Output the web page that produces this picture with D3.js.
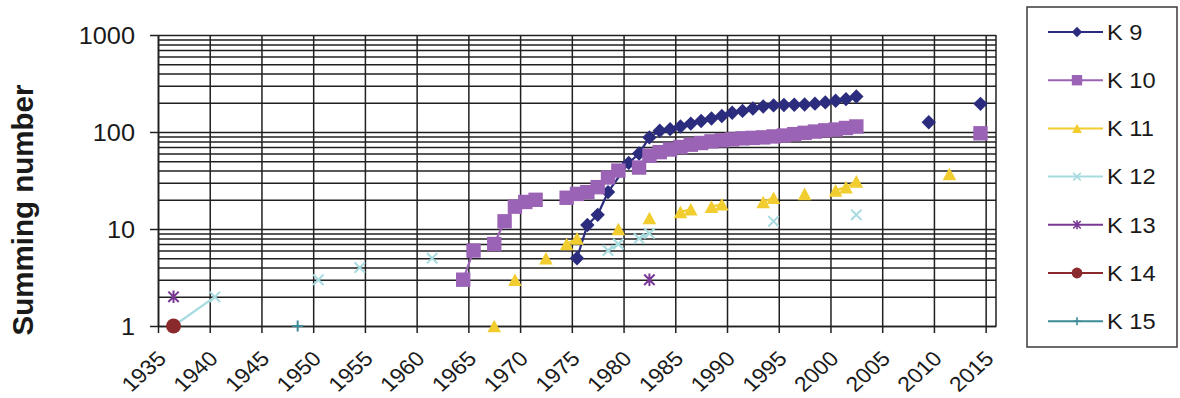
<!DOCTYPE html>
<html>
<head>
<meta charset="utf-8">
<script src="https://cdn.jsdelivr.net/npm/d3@7"></script>
<style>
  body { margin: 0; background: #ffffff; }
  text { font-family: Arial, "Liberation Sans", sans-serif; fill: #1a1a1a; }
</style>
</head>
<body>
<svg id="chart" width="1180" height="398"></svg>
<script>
// ---- data: yearly summing numbers per K-series (null = no observation, breaks the line)
const seriesNames = ["K 9", "K 10", "K 11", "K 12", "K 13", "K 14", "K 15"];

const k9Years  = [1975, 1976, 1977, 1978, 1980, 1981, 1982, 1983, 1984, 1985, 1986, 1987, 1988, 1989, 1990,
                  1991, 1992, 1993, 1994, 1995, 1996, 1997, 1998, 1999, 2000, 2001, 2002, 2003, 2009, 2010, 2014];
const k9Values = [5, 11, 14, 24, 48, 60, 88, 103, 107, 114, 122, 130, 138, 146, 158,
                  165, 175, 183, 188, 190, 191, 192, 196, 202, 210, 218, 232, null, 126, null, 195];

const k10Years  = [1964, 1965, 1966, 1967, 1968, 1969, 1970, 1971, 1972, 1974, 1975, 1976, 1977, 1978, 1979,
                   1980, 1981, 1982, 1983, 1984, 1985, 1986, 1987, 1988, 1989, 1990, 1991, 1992, 1993, 1994,
                   1995, 1996, 1997, 1998, 1999, 2000, 2001, 2002, 2003, 2014];
const k10Values = [3, 6, null, 7, 12, 17, 19, 20, null, 21, 23, 24, 27, 34, 40,
                   null, 43, 57, 62, 66, 70, 74, 77, 80, 82, 84, 86, 87, 88, 90,
                   92, 95, 98, 101, 104, 106, 110, 114, null, 97];

const k11Years  = [1967, 1968, 1969, 1970, 1972, 1973, 1974, 1975, 1976, 1979, 1980, 1982, 1983, 1985, 1986,
                   1987, 1988, 1989, 1990, 1993, 1994, 1995, 1997, 1998, 2000, 2001, 2002, 2003, 2011];
const k11Values = [1, null, 3, null, 5, null, 7, 8, null, 10, null, 13, null, 15, 16,
                   null, 17, 18, null, 19, 21, null, 23, null, 25, 27, 31, null, 37];

const k12Years  = [1936, 1940, 1941, 1950, 1951, 1954, 1955, 1961, 1962, 1978, 1979, 1980, 1981, 1982, 1983, 1994, 1995, 2002];
const k12Values = [1, 2, null, 3, null, 4, null, 5, null, 6, 7, null, 8, 9, null, 12, null, 14];

const k13Years  = [1936, 1937, 1982];
const k13Values = [2, null, 3];

const k14Years  = [1936];
const k14Values = [1];

const k15Years  = [1948];
const k15Values = [1];

const yearTicks  = [1935, 1940, 1945, 1950, 1955, 1960, 1965, 1970, 1975, 1980, 1985, 1990, 1995, 2000, 2005, 2010, 2015];
const countTicks = [1, 10, 100, 1000];
const yTitle = "Summing number";

// ---- look
const colors  = ["#2c2c7e", "#9b63b5", "#f2cd2f", "#a6dbe0", "#7a3896", "#8a2a2c", "#3c8b98"];
const markers = ["diamond", "square", "triangle", "cross", "star", "circle", "plus"];
const gridColor = "#202020";
const midYear = 0.5;          // counts are placed in the middle of their year
const stretch = "scale(1.1,1)";

const X0 = 158, X1 = 996, Y0 = 326, Y1 = 35;
const x = d3.scaleLinear().domain([1935, 2016]).range([X0, X1]);
const y = d3.scaleLog().domain([1, 1000]).range([Y0, Y1]);

const svg = d3.select("#chart");

// ---- grid: every integer step of each decade
const gridValues = [];
countTicks.slice(0, -1).forEach(d => { for (let k = 1; k <= 9; k++) gridValues.push(k * d); });
gridValues.push(1000);

svg.append("g")
  .attr("transform", `translate(${X0},0)`)
  .call(d3.axisLeft(y).tickValues(gridValues).tickSize(-(X1 - X0)).tickFormat(""))
  .call(g => g.select(".domain").remove())
  .selectAll("line").attr("stroke", gridColor).attr("stroke-width", 1.5);

svg.append("g")
  .attr("transform", `translate(0,${Y1})`)
  .call(d3.axisBottom(x).tickValues(yearTicks).tickSize(Y0 - Y1).tickFormat(""))
  .call(g => g.select(".domain").remove())
  .selectAll("line").attr("stroke", gridColor).attr("stroke-width", 1.5);

// right frame edge
svg.append("line")
  .attr("x1", X1).attr("x2", X1).attr("y1", Y1).attr("y2", Y0)
  .attr("stroke", gridColor).attr("stroke-width", 1.5);

// ---- axes
const xAxis = svg.append("g")
  .attr("transform", `translate(0,${Y0})`)
  .call(d3.axisBottom(x).tickValues(yearTicks).tickSizeInner(7).tickSizeOuter(0).tickFormat(d3.format("d")));
xAxis.select(".domain").attr("stroke", gridColor).attr("stroke-width", 1.6);
xAxis.selectAll("line").attr("stroke", gridColor).attr("stroke-width", 1.5);
xAxis.selectAll("text")
  .attr("x", 0).attr("y", 0).attr("dy", 0)
  .attr("text-anchor", "end")
  .attr("font-size", 21)
  .attr("fill", "#1a1a1a")
  .attr("transform", `translate(9,34) ${stretch} rotate(-45)`);

const yAxis = svg.append("g")
  .attr("transform", `translate(${X0},0)`)
  .call(d3.axisLeft(y).tickValues(countTicks).tickSizeInner(8).tickSizeOuter(0).tickFormat(d3.format("d")));
yAxis.select(".domain").attr("stroke", gridColor).attr("stroke-width", 1.6);
yAxis.selectAll("line").attr("stroke", gridColor).attr("stroke-width", 1.5);
yAxis.selectAll("text")
  .attr("x", 0).attr("dy", "0.36em")
  .attr("font-size", 23)
  .attr("fill", "#1a1a1a")
  .attr("transform", `translate(-23,0) ${stretch}`);

svg.append("text")
  .attr("transform", `translate(33,${(83 + 337) / 2}) rotate(-90)`)
  .attr("text-anchor", "middle")
  .attr("font-size", 29.5)
  .attr("font-weight", "bold")
  .text(yTitle);

// ---- marker shapes
function drawMarker(g, type, color, s) {
  const sw = 2 * Math.max(s, 0.8);
  if (type === "diamond") {
    const r = 7.2 * s;
    g.append("path").attr("d", `M0,${-r}L${r},0L0,${r}L${-r},0Z`).attr("fill", color);
  } else if (type === "square") {
    const h = 7.2 * s;
    g.append("rect").attr("x", -h).attr("y", -h).attr("width", 2 * h).attr("height", 2 * h).attr("fill", color);
  } else if (type === "triangle") {
    const w = 6.8 * s, t = 6.3 * s;
    g.append("path").attr("d", `M0,${-t}L${w},${t}L${-w},${t}Z`).attr("fill", color);
  } else if (type === "cross") {
    const r = 5.2 * s;
    g.append("path").attr("d", `M${-r},${-r}L${r},${r}M${-r},${r}L${r},${-r}`)
      .attr("stroke", color).attr("stroke-width", sw).attr("fill", "none");
  } else if (type === "star") {
    const r = 5.2 * s;
    g.append("path").attr("d", `M${-r},${-r}L${r},${r}M${-r},${r}L${r},${-r}M0,${-r * 1.2}L0,${r * 1.2}`)
      .attr("stroke", color).attr("stroke-width", sw).attr("fill", "none");
  } else if (type === "circle") {
    g.append("circle").attr("r", 7.5 * s).attr("fill", color);
  } else if (type === "plus") {
    const r = 5.5 * s;
    g.append("path").attr("d", `M${-r},0L${r},0M0,${-r}L0,${r}`)
      .attr("stroke", color).attr("stroke-width", sw).attr("fill", "none");
  }
}

// ---- series
const yearLists  = [k9Years, k10Years, k11Years, k12Years, k13Years, k14Years, k15Years];
const valueLists = [k9Values, k10Values, k11Values, k12Values, k13Values, k14Values, k15Values];
const series = seriesNames.map((name, i) => ({
  name, color: colors[i], marker: markers[i],
  points: yearLists[i].map((yr, j) => ({ year: yr, value: valueLists[i][j] }))
}));

const line = d3.line()
  .defined(d => d.value != null)
  .x(d => x(d.year + midYear))
  .y(d => y(d.value));

const plot = svg.append("g");
series.forEach(s => {
  const g = plot.append("g");
  g.append("path").datum(s.points)
    .attr("d", line).attr("fill", "none")
    .attr("stroke", s.color).attr("stroke-width", 2.2);
  s.points.filter(d => d.value != null).forEach(d => {
    const m = g.append("g").attr("transform", `translate(${x(d.year + midYear)},${y(d.value)})`);
    drawMarker(m, s.marker, s.color, 1);
  });
});

// ---- legend
const legend = svg.append("g");
legend.append("rect")
  .attr("x", 1027).attr("y", 7).attr("width", 150).attr("height", 340)
  .attr("fill", "#ffffff").attr("stroke", "#3a3a3a").attr("stroke-width", 1.5);

series.forEach((s, i) => {
  const ry = 32 + i * 48.2;
  const row = legend.append("g").attr("transform", `translate(0,${ry})`);
  row.append("line").attr("x1", 1048).attr("x2", 1103).attr("y1", 0).attr("y2", 0)
    .attr("stroke", s.color).attr("stroke-width", 2);
  const m = row.append("g").attr("transform", "translate(1077,0)");
  drawMarker(m, s.marker, s.color, 0.72);
  row.append("text")
    .attr("x", 0).attr("y", 0).attr("dy", "0.36em")
    .attr("transform", `translate(1107,0) ${stretch}`)
    .attr("font-size", 21.5)
    .text(s.name);
});
</script>
</body>
</html>
